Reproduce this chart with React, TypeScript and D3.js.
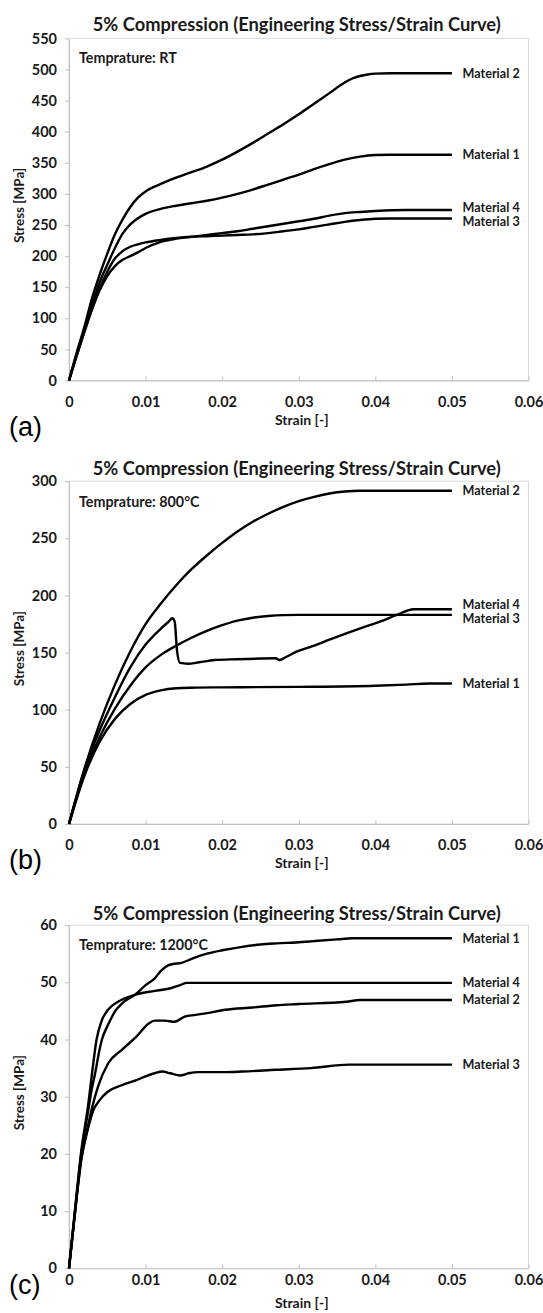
import React, { useEffect, useRef } from 'react'
import * as d3 from 'd3'

type Pt = [number, number]

const materials = ['Material 1', 'Material 2', 'Material 3', 'Material 4']
const strainTicks = [0, 0.01, 0.02, 0.03, 0.04, 0.05, 0.06]
const rtTicks = [0, 50, 100, 150, 200, 250, 300, 350, 400, 450, 500, 550]
const t800Ticks = [0, 50, 100, 150, 200, 250, 300]
const t1200Ticks = [0, 10, 20, 30, 40, 50, 60]

// room temperature, [strain, stress MPa]
const rtMat1: Pt[] = [[0, 0], [0.001, 42], [0.002, 82], [0.003, 122], [0.004, 158], [0.005, 186], [0.006, 213], [0.007, 236], [0.008, 251], [0.009, 261], [0.010, 268], [0.012, 276], [0.014, 281], [0.016, 285], [0.018, 289], [0.020, 294], [0.022, 300], [0.024, 307], [0.026, 315], [0.028, 323], [0.030, 331], [0.032, 340], [0.034, 348], [0.036, 355], [0.038, 360], [0.040, 362.5], [0.042, 363], [0.050, 363]]
const rtMat2: Pt[] = [[0, 0], [0.001, 45], [0.002, 86], [0.003, 132], [0.004, 170], [0.005, 204], [0.006, 235], [0.007, 259], [0.008, 279], [0.009, 294], [0.010, 304], [0.012, 316], [0.014, 326], [0.016, 335], [0.018, 344], [0.020, 355], [0.022, 368], [0.024, 382], [0.026, 397], [0.028, 412], [0.030, 428], [0.032, 445], [0.034, 462], [0.036, 479], [0.037, 485.5], [0.038, 489.5], [0.039, 492], [0.040, 493.3], [0.042, 494], [0.050, 494]]
const rtMat3: Pt[] = [[0, 0], [0.001, 40], [0.002, 78], [0.003, 115], [0.004, 148], [0.005, 175], [0.006, 196], [0.007, 208], [0.008, 215], [0.009, 219], [0.010, 222], [0.012, 226], [0.014, 229], [0.016, 231], [0.018, 232], [0.020, 233], [0.022, 234], [0.024, 235], [0.026, 237], [0.028, 240], [0.030, 243], [0.032, 247], [0.034, 251], [0.036, 255], [0.038, 258], [0.040, 260], [0.042, 260.5], [0.050, 260.5]]
const rtMat4: Pt[] = [[0, 0], [0.001, 40], [0.002, 78], [0.003, 114], [0.004, 145], [0.005, 168], [0.006, 184], [0.007, 194], [0.008, 200], [0.009, 206], [0.010, 213], [0.012, 223], [0.014, 228], [0.016, 231], [0.018, 234], [0.020, 237], [0.022, 240], [0.024, 244], [0.026, 248], [0.028, 252], [0.030, 256], [0.032, 260], [0.034, 265], [0.036, 269], [0.038, 271], [0.040, 272.5], [0.044, 274], [0.050, 274]]

// 800 °C
const t800Mat1: Pt[] = [[0, 0], [0.002, 42], [0.004, 72], [0.006, 92], [0.008, 105], [0.010, 113], [0.012, 117], [0.014, 118.8], [0.016, 119.3], [0.020, 119.6], [0.030, 120], [0.040, 121], [0.044, 122], [0.047, 123], [0.050, 123]]
const t800Mat2: Pt[] = [[0, 0], [0.002, 48], [0.004, 88], [0.006, 122], [0.008, 151], [0.010, 175], [0.012, 193], [0.014, 209], [0.016, 223], [0.018, 235], [0.020, 246], [0.022, 256], [0.024, 264.5], [0.026, 271.5], [0.028, 277.5], [0.030, 282.5], [0.032, 286.3], [0.034, 289.2], [0.036, 291], [0.038, 291.7], [0.050, 291.7]]
const t800Mat3: Pt[] = [[0, 0], [0.002, 44], [0.004, 76], [0.006, 101], [0.008, 121], [0.010, 137], [0.012, 148], [0.014, 156], [0.016, 163], [0.018, 169], [0.020, 174], [0.022, 178], [0.024, 180.5], [0.026, 182], [0.028, 182.8], [0.030, 183], [0.050, 183]]
const t800Mat4: Pt[] = [[0, 0], [0.002, 47], [0.004, 82], [0.006, 111], [0.008, 137], [0.010, 157], [0.012, 171], [0.013, 177], [0.0135, 180], [0.0138, 177], [0.0141, 152], [0.0145, 141], [0.0155, 140.3], [0.017, 141.5], [0.019, 143.5], [0.022, 144.2], [0.025, 144.8], [0.027, 145], [0.0275, 143.5], [0.0284, 146.4], [0.0297, 150.8], [0.0319, 155.8], [0.0341, 161.5], [0.0363, 167], [0.0384, 172], [0.0406, 177], [0.0428, 183], [0.045, 188], [0.050, 188]]

// 1200 °C
const t1200Mat1: Pt[] = [[0, 0], [0.0008, 10], [0.0016, 20], [0.0025, 27.5], [0.003, 31.5], [0.0034, 34], [0.004, 38.3], [0.0043, 40], [0.005, 42.3], [0.0054, 43.4], [0.006, 44.9], [0.007, 46.4], [0.0086, 47.8], [0.010, 49.5], [0.0112, 50.7], [0.012, 52], [0.013, 53], [0.0136, 53.2], [0.0147, 53.4], [0.016, 54.1], [0.018, 55], [0.020, 55.6], [0.0226, 56.2], [0.025, 56.6], [0.0271, 56.8], [0.030, 57], [0.032, 57.2], [0.035, 57.5], [0.037, 57.7], [0.050, 57.7]]
const t1200Mat2: Pt[] = [[0, 0], [0.0008, 10], [0.0016, 19], [0.0025, 25], [0.003, 28], [0.0038, 31.8], [0.0051, 35.8], [0.0069, 38.2], [0.0088, 40.5], [0.0104, 42.8], [0.0112, 43.3], [0.0125, 43.3], [0.0138, 43.1], [0.0151, 44], [0.0165, 44.3], [0.018, 44.6], [0.0204, 45.2], [0.024, 45.6], [0.0271, 46], [0.030, 46.2], [0.0362, 46.6], [0.038, 46.9], [0.050, 46.9]]
const t1200Mat3: Pt[] = [[0, 0], [0.0008, 10], [0.0016, 19], [0.0025, 24.5], [0.0032, 27.7], [0.004, 29.4], [0.0051, 30.9], [0.0069, 32], [0.0088, 32.9], [0.0099, 33.5], [0.0112, 34.1], [0.0122, 34.4], [0.0132, 34.1], [0.0145, 33.7], [0.0156, 34.1], [0.017, 34.3], [0.020, 34.3], [0.0226, 34.4], [0.027, 34.7], [0.0316, 35], [0.0366, 35.6], [0.050, 35.6]]
const t1200Mat4: Pt[] = [[0, 0], [0.0008, 10.5], [0.0016, 20.5], [0.0025, 28.5], [0.003, 34], [0.0036, 40], [0.0043, 43.4], [0.0051, 45.2], [0.0064, 46.6], [0.0086, 47.8], [0.0112, 48.5], [0.0134, 49], [0.0145, 49.5], [0.0154, 49.9], [0.050, 49.9]]

const FONT = 'Lato, "Open Sans", sans-serif'
const TITLE = '5% Compression (Engineering Stress/Strain Curve)'

export default function App() {
  const ref = useRef<SVGSVGElement>(null)

  useEffect(() => {
    const svg = d3.select(ref.current)
    svg.selectAll('*').remove()

    const panels = [
      { letter: '(a)', temp: 'Temprature: RT', series: [rtMat1, rtMat2, rtMat3, rtMat4], yTicks: rtTicks,
        top: 38.4, bottom: 380.5, titleY: 25, tempY: 58, tickY: 21, axisY: 420, letterY: 427 },
      { letter: '(b)', temp: 'Temprature: 800°C', series: [t800Mat1, t800Mat2, t800Mat3, t800Mat4], yTicks: t800Ticks,
        top: 481.2, bottom: 824, titleY: 468.3, tempY: 501.7, tickY: 21, axisY: 863.3, letterY: 860 },
      { letter: '(c)', temp: 'Temprature: 1200°C', series: [t1200Mat1, t1200Mat2, t1200Mat3, t1200Mat4], yTicks: t1200Ticks,
        top: 925.1, bottom: 1268.3, titleY: 913.3, tempY: 945, tickY: 12, axisY: 1303.5, letterY: 1285 }
    ]

    const left = 69, right = 528.5
    const x = d3.scaleLinear().domain([0, 0.06]).range([left, right])

    panels.forEach(p => {
      const yMax = p.yTicks[p.yTicks.length - 1]
      const y = d3.scaleLinear().domain([0, yMax]).range([p.bottom, p.top])
      const g = svg.append('g')

      // plot area border
      g.append('rect')
        .attr('x', left).attr('y', p.top)
        .attr('width', right - left).attr('height', p.bottom - p.top)
        .attr('fill', 'none').attr('stroke', '#d9d9d9')

      const xAxis = g.append('g')
        .attr('transform', `translate(0,${p.bottom})`)
        .call(d3.axisBottom(x).tickValues(strainTicks).tickSize(-4).tickSizeOuter(0)
          .tickFormat(d => (+d === 0 ? '0' : (+d).toFixed(2))))
      xAxis.selectAll('text').attr('y', p.tickY).attr('dy', '0.35em')

      const yAxis = g.append('g')
        .attr('transform', `translate(${left},0)`)
        .call(d3.axisLeft(y).tickValues(p.yTicks).tickSize(4).tickSizeOuter(0).tickFormat(d3.format('d')))
      yAxis.selectAll('text').attr('x', -12)

      g.selectAll('.domain, .tick line').attr('stroke', '#bfbfbf')
      g.selectAll('.tick text')
        .attr('fill', '#1a1a1a')
        .style('font-family', FONT).style('font-weight', 700).style('font-size', '14.5px')

      const line = d3.line<Pt>().x(d => x(d[0])).y(d => y(d[1])).curve(d3.curveMonotoneX)
      g.selectAll('path.curve')
        .data(p.series)
        .enter()
        .append('path')
        .attr('class', 'curve')
        .attr('d', d => line(d))
        .attr('fill', 'none')
        .attr('stroke', '#000')
        .attr('stroke-width', 2.4)
        .attr('stroke-linejoin', 'round')

      // end labels, pushed apart when they collide
      const labels = p.series.map((s, i) => ({ name: materials[i], y: y(s[s.length - 1][1]) }))
        .sort((a, b) => a.y - b.y)
      const gap = 14
      for (let k = 0; k < 5; k++) {
        for (let i = 1; i < labels.length; i++) {
          const d = labels[i].y - labels[i - 1].y
          if (d < gap) {
            const shift = (gap - d) / 2
            labels[i].y += shift
            labels[i - 1].y -= shift
          }
        }
      }
      g.selectAll('text.mat')
        .data(labels)
        .enter()
        .append('text')
        .attr('class', 'mat')
        .attr('x', 462.5)
        .attr('y', d => d.y)
        .attr('dy', '0.35em')
        .style('font-family', FONT).style('font-weight', 700).style('font-size', '12.6px')
        .attr('fill', '#1a1a1a')
        .text(d => d.name)

      g.append('text')
        .attr('x', (left + right) / 2 - 2).attr('y', p.titleY).attr('dy', '0.35em')
        .attr('text-anchor', 'middle')
        .style('font-family', FONT).style('font-weight', 700).style('font-size', '18.3px')
        .attr('fill', '#1a1a1a')
        .text(TITLE)

      g.append('text')
        .attr('x', 79).attr('y', p.tempY).attr('dy', '0.35em')
        .style('font-family', FONT).style('font-weight', 700).style('font-size', '14.3px')
        .attr('fill', '#1a1a1a')
        .text(p.temp)

      g.append('text')
        .attr('x', (left + right) / 2 + 3).attr('y', p.axisY).attr('dy', '0.35em')
        .attr('text-anchor', 'middle')
        .style('font-family', FONT).style('font-weight', 700).style('font-size', '14px')
        .attr('fill', '#1a1a1a')
        .text('Strain [-]')

      g.append('text')
        .attr('transform', `translate(19,${(p.top + p.bottom) / 2 - 4}) rotate(-90)`)
        .attr('dy', '0.35em')
        .attr('text-anchor', 'middle')
        .style('font-family', FONT).style('font-weight', 700).style('font-size', '13.5px')
        .attr('fill', '#1a1a1a')
        .text('Stress [MPa]')

      g.append('text')
        .attr('x', 9).attr('y', p.letterY).attr('dy', '0.35em')
        .style('font-family', '"Liberation Sans", Arial, sans-serif').style('font-size', '27px')
        .attr('fill', '#000')
        .text(p.letter)
    })
  }, [])

  return (
    <svg ref={ref} width={543} height={1313}
      style={{ position: 'absolute', left: 0, top: 0, background: '#fff' }} />
  )
}
